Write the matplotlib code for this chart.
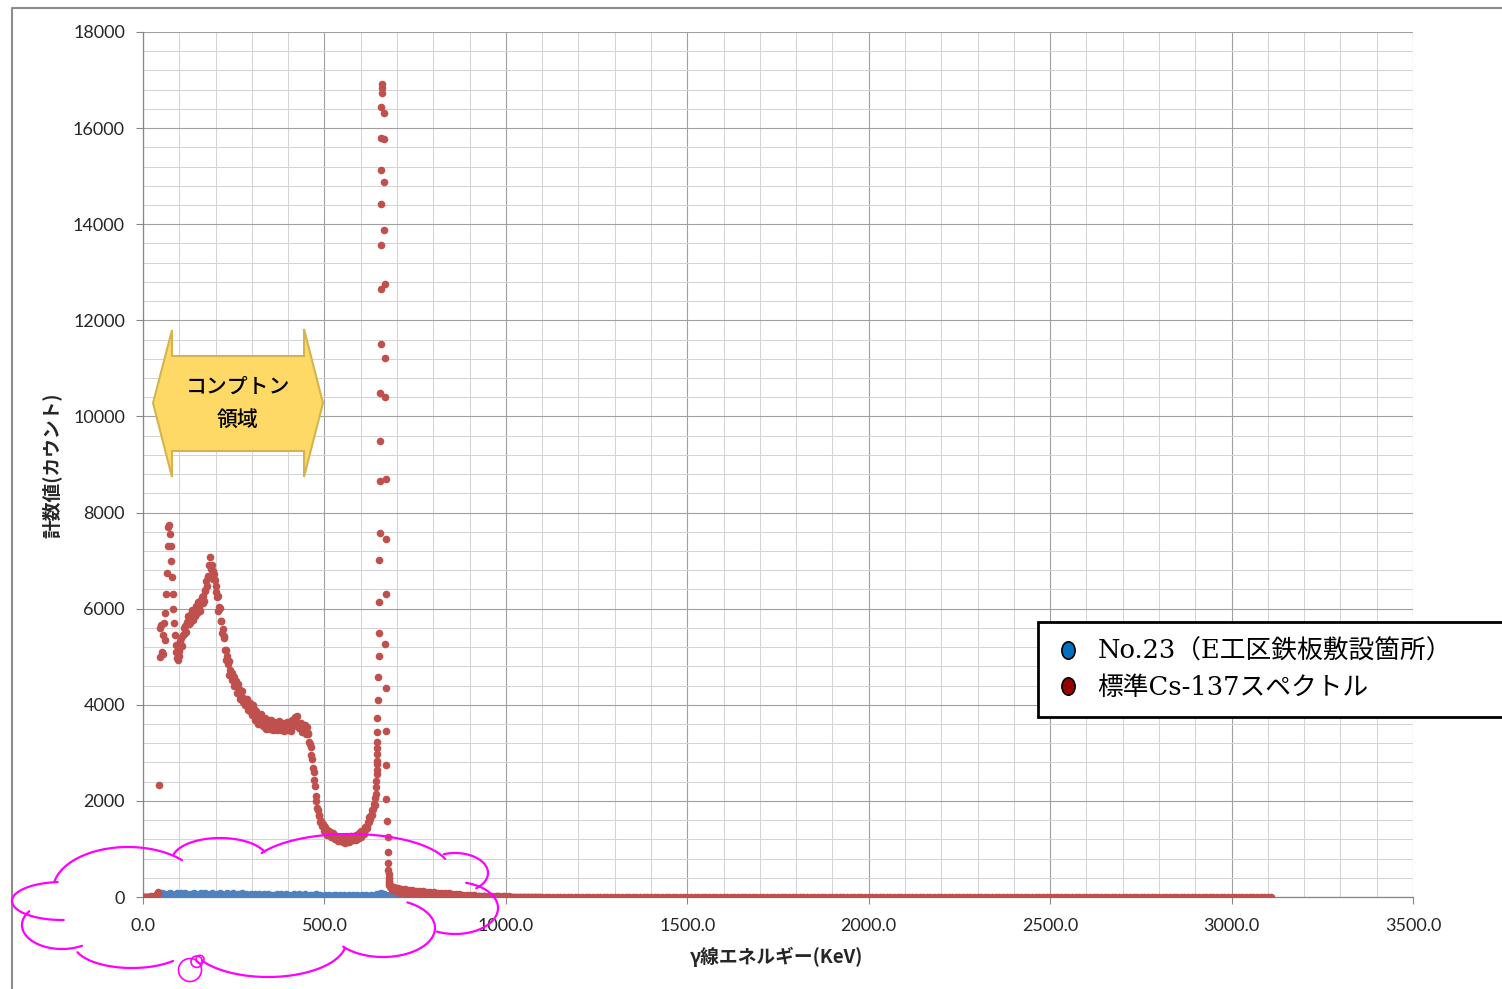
import numpy as np
import matplotlib
matplotlib.use("Agg")
import matplotlib.pyplot as plt
from matplotlib.ticker import MultipleLocator, FormatStrFormatter
from matplotlib.patches import Polygon, Circle
from matplotlib.lines import Line2D
from matplotlib.path import Path
from matplotlib.transforms import Affine2D

plt.rcParams['font.family'] = ['Lato', 'Noto Sans CJK JP', 'DejaVu Sans']

# ---------------------------------------------------------------- data
# Standard Cs-137 spectrum, 2 keV bins from 0 keV up to 642 keV
CS_BIN_KEV = 2.0
cs137_low_counts = [
    # 0 - 44 keV
    0, 0, 5, 0, 10, 0, 5, 0, 10, 0, 5, 15, 0, 10, 5, 20, 10, 15, 30, 60,
    110, 90, 2330,
    # 46 - 96 keV (X-ray peak)
    5600, 5000, 5650, 5100, 5450, 5050, 5700, 5350, 5900, 6300,
    6750, 7300, 7700, 7750, 7550, 7300, 7000, 6650, 6300, 6000,
    5700, 5450, 5250, 5100, 4980, 4930,
    # 98 - 340 keV (Compton continuum and backscatter hump)
    5120, 5020, 5320, 5240, 5400, 5220, 5450, 5590, 5480, 5630,
    5510, 5730, 5680, 5850, 5680, 5800, 5710, 5880, 5810, 5970,
    5760, 5940, 5910, 5850, 6060, 6050, 5900, 6140, 6020, 6150,
    5960, 6140, 6250, 6120, 6270, 6150, 6390, 6360, 6580, 6480,
    6670, 6660, 6900, 6880, 7080, 6830, 6910, 6780, 6620, 6720,
    6600, 6340, 6480, 6250, 6270, 5960, 6030, 6010, 5740, 5750,
    5490, 5580, 5390, 5430, 5130, 5130, 4930, 5010, 4840, 4910,
    4630, 4730, 4640, 4520, 4670, 4590, 4390, 4580, 4410, 4490,
    4250, 4380, 4430, 4230, 4310, 4130, 4290, 4170, 4280, 4060,
    4130, 4000, 4130, 4010, 4130, 3890, 4030, 3970, 3870, 4040,
    3980, 3790, 3990, 3830, 3920, 3680, 3820, 3880, 3690, 3785,
    3610, 3785, 3680, 3810, 3595, 3675, 3555, 3695, 3590, 3720,
    3495, 3650,
    # 342 - 456 keV (plateau)
    3605, 3536, 3683, 3646, 3505, 3676, 3559, 3642, 3466, 3589,
    3650, 3512, 3598, 3468, 3618, 3544, 3654, 3494, 3565, 3476,
    3595, 3514, 3625, 3449, 3577, 3545, 3481, 3633, 3601, 3465,
    3641, 3529, 3617, 3451, 3594, 3673, 3557, 3670, 3572, 3744,
    3672, 3764, 3574, 3616, 3508, 3613, 3518, 3620, 3439, 3557,
    3520, 3446, 3588, 3546, 3390, 3536, 3384, 3412,
    # 458 - 494 keV (Compton edge)
    3221, 3189, 3113, 2952, 2865, 2687, 2604, 2427, 2319, 2109,
    1996, 1853, 1808, 1698, 1680, 1564, 1572, 1525, 1471,
    # 496 - 642 keV (valley below the photopeak)
    1515, 1472, 1370, 1449, 1369, 1403, 1291, 1354, 1382, 1298,
    1338, 1255, 1328, 1275, 1327, 1224, 1255, 1197, 1257, 1206,
    1263, 1158, 1225, 1203, 1164, 1247, 1226, 1147, 1245, 1181,
    1231, 1131, 1205, 1243, 1169, 1222, 1152, 1241, 1203, 1270,
    1183, 1228, 1182, 1255, 1215, 1284, 1191, 1270, 1260, 1232,
    1327, 1319, 1253, 1365, 1316, 1382, 1301, 1395, 1455, 1405,
    1483, 1442, 1564, 1561, 1665, 1616, 1701, 1699, 1817, 1824,
    1945, 1916, 2068, 2140,
]

# 662 keV photopeak channels
cs137_peak_kev = [
    643.0, 643.5, 644.0, 644.3, 644.6, 645.0, 645.0, 645.3, 645.6, 645.6,
    646.0, 646.3, 646.3, 649.5, 649.5, 649.5, 650.3, 653.0, 653.0, 653.5,
    654.5, 655.5, 656.0, 656.5, 656.5, 656.5, 657.0, 656.5, 660.0, 660.0,
    660.0,
    663.5, 664.0, 663.5, 663.5, 666.0, 666.0, 666.0, 668.8, 668.8, 668.8,
    667.8, 670.6, 670.6, 670.6, 670.6, 673.3, 676.0, 676.0, 676.0, 676.5,
    677.0, 677.5, 678.0, 678.5, 679.0, 680.0, 681.0,
]
cs137_peak_counts = [
    2280, 2420, 2560, 2650, 2760, 2830, 2970, 3100, 3232, 3440,
    3731, 4100, 4572, 5015, 5488, 6146, 7013, 7581, 8657, 9489,
    10482, 11508, 12660, 13568, 14421, 15129, 15788, 16433, 16738, 16830,
    16919,
    16322, 15767, 14879, 13880, 12757, 11223, 10405, 8705, 7444, 6299,
    5271, 4356, 3448, 2754, 2033, 1588, 1242, 943, 701, 562,
    470, 400, 340, 290, 250, 220, 200,
]

# High-energy side of the peak, 5 keV bins from 682 keV
CS_TAIL_START_KEV = 682.0
CS_TAIL_STEP_KEV = 5.0
cs137_tail_counts = [
    250, 150, 210, 120, 190, 90, 170, 130, 160, 70,
    150, 110, 140, 60, 130, 95, 120, 50, 115, 80,
    105, 45, 100, 70, 95, 40, 90, 60, 85, 30,
    80, 55, 75, 25, 70, 45, 60, 20, 55, 40,
    50, 15, 45, 30, 40, 10, 35, 25, 30, 8,
    28, 20, 25, 5, 22, 15, 20, 5, 18, 10,
    15, 3, 12, 8, 10,
]

# Remaining range up to 3110 keV, 10 keV bins from 1010 keV
CS_FAR_START_KEV = 1010.0
CS_FAR_STEP_KEV = 10.0
cs137_far_counts = [
    12, 6, 10, 4, 9, 3, 8, 5, 10, 2,
    7, 4, 9, 1, 6, 8, 3, 7, 2, 6,
    5, 1, 7, 3, 6, 0, 5, 4, 2, 6,
    3, 5, 1, 4, 6, 2, 5, 0, 4, 3,
    5, 2, 4, 0, 3, 6, 1, 4, 2, 5,
    0, 4, 3, 1, 5, 2, 4, 0, 3, 2,
    4, 1, 3, 5, 0, 2, 4, 1, 3, 0,
    2, 4, 1, 3, 0, 5, 2, 1, 3, 2,
    0, 3, 2, 4, 1, 0, 3, 2, 1, 4,
    2, 0, 3, 1, 2, 4, 0, 2, 1, 3,
    1, 2, 0, 3, 1, 2, 0, 1, 3, 0,
    2, 1, 0, 2, 3, 0, 1, 2, 0, 1,
    3, 0, 1, 2, 0, 1, 2, 0, 1, 0,
    2, 1, 0, 1, 2, 0, 1, 0, 2, 1,
    0, 1, 2, 0, 1, 0, 1, 2, 0, 1,
    1, 0, 2, 0, 1, 1, 0, 1, 0, 2,
    0, 1, 0, 1, 2, 0, 1, 0, 1, 0,
    1, 0, 1, 0, 0, 2, 0, 1, 0, 1,
    0, 1, 0, 0, 1, 0, 1, 0, 0, 1,
    1, 0, 0, 1, 0, 1, 0, 0, 1, 0,
    0, 1, 0, 0, 1, 0, 0, 1, 0, 0,
    1,
]

# Field measurement No.23, 6 keV bins from 45 keV
NO23_START_KEV = 45.0
NO23_STEP_KEV = 6.0
no23_counts = [
    40, 85, 55, 70, 30, 90, 60, 45, 80, 35, 75,
    50, 90, 40, 70, 55, 85, 30, 65, 80, 45, 75,
    60, 35, 85, 50, 70, 40, 90, 55, 30, 75, 60,
    45, 80, 35, 65, 50, 75, 30, 60, 45, 70, 40,
    55, 25, 65, 45, 60, 30, 70, 40, 50, 25, 60,
    35, 55, 20, 65, 40, 50, 30, 60, 25, 55, 45,
    30, 55, 20, 50, 40, 25, 55, 35, 45, 20, 50,
    30, 45, 15, 50, 35, 25, 45, 20, 40, 30, 50,
    20, 40, 30, 45, 15, 35, 25, 45, 20, 40, 30,
    45, 55, 70, 85, 60, 45, 30, 40, 20, 35, 25,
    30, 15, 35, 25, 20, 35, 15, 30, 20, 25, 10,
    30, 20, 25, 15, 30, 10, 25, 20, 15, 25, 10,
    20, 15, 25, 10, 20, 15, 10, 20, 5, 15, 10,
    20, 10, 15, 5, 15, 10, 20, 5, 10, 15, 5,
    10, 15, 5, 10, 5, 15, 10, 5, 10, 5, 10,
    5, 10, 5, 10, 0, 5, 10, 5, 0, 5, 10,
]

series_labels = ["No.23（E工区鉄板敷設箇所）", "標準Cs-137スペクトル"]
x_label = "γ線エネルギー(KeV)"
y_label = "計数値(カウント)"
callout_lines = ["コンプトン", "領域"]

# ---------------------------------------------------------------- series
cs_kev = np.concatenate([
    np.arange(len(cs137_low_counts)) * CS_BIN_KEV,
    np.asarray(cs137_peak_kev),
    CS_TAIL_START_KEV + np.arange(len(cs137_tail_counts)) * CS_TAIL_STEP_KEV,
    CS_FAR_START_KEV + np.arange(len(cs137_far_counts)) * CS_FAR_STEP_KEV,
])
cs_counts = np.concatenate([cs137_low_counts, cs137_peak_counts,
                            cs137_tail_counts, cs137_far_counts]).astype(float)
no23_kev = NO23_START_KEV + np.arange(len(no23_counts)) * NO23_STEP_KEV

# ---------------------------------------------------------------- figure
W, H, DPI = 1502, 989, 100
fig = plt.figure(figsize=(W / DPI, H / DPI), dpi=DPI, facecolor='white')
L, R, T, B = 143, 1413, 32, 897
ax = fig.add_axes([L / W, (H - B) / H, (R - L) / W, (B - T) / H])

RED = '#C0504D'
BLUE = '#4F81BD'
ax.scatter(no23_kev, no23_counts, s=30, color=BLUE, linewidths=0, zorder=3)
ax.scatter(cs_kev, cs_counts, s=30, color=RED, linewidths=0, zorder=4)

ax.set_xlim(0, 3500)
ax.set_ylim(0, 18000)
ax.xaxis.set_major_locator(MultipleLocator(500))
ax.xaxis.set_minor_locator(MultipleLocator(100))
ax.yaxis.set_major_locator(MultipleLocator(2000))
ax.yaxis.set_minor_locator(MultipleLocator(400))
ax.xaxis.set_major_formatter(FormatStrFormatter('%.1f'))
ax.yaxis.set_major_formatter(FormatStrFormatter('%d'))
ax.set_axisbelow(True)
ax.grid(which='major', color='#a0a0a0', linewidth=0.8)
ax.grid(which='minor', color='#d4d4d4', linewidth=0.75)
for side in ('top', 'right'):
    ax.spines[side].set_visible(False)
for side in ('left', 'bottom'):
    ax.spines[side].set_color('#868686')
    ax.spines[side].set_linewidth(0.9)
ax.tick_params(which='major', length=5, width=0.8, color='#868686',
               labelsize=13, labelcolor='#262626')
ax.tick_params(axis='y', which='major', pad=8)
ax.tick_params(axis='x', which='major', pad=10)
ax.tick_params(which='minor', length=0)

ax.set_xlabel(x_label, fontsize=13.5, fontweight='bold',
              family=['Noto Sans CJK JP', 'DejaVu Sans'], color='#262626')
ax.xaxis.set_label_coords((777 - L) / (R - L), (B - 957) / (B - T))
ax.xaxis.label.set_va('center')
ax.set_ylabel(y_label, fontsize=13.5, fontweight='bold',
              family=['Noto Sans CJK JP', 'DejaVu Sans'], color='#262626')
ax.yaxis.set_label_coords((52 - L) / (R - L), (B - 465) / (B - T))
ax.yaxis.label.set_va('center')

# ---------------------------------------------------------------- legend
ellipse = Path.unit_circle().transformed(Affine2D().scale(0.76, 1.0))
handles = [
    Line2D([], [], ls='none', marker=ellipse, markersize=12.5,
           markerfacecolor='#0070C0', markeredgecolor='black', markeredgewidth=1.2),
    Line2D([], [], ls='none', marker=ellipse, markersize=12.5,
           markerfacecolor='#990000', markeredgecolor='black', markeredgewidth=1.2),
]
leg = fig.legend(handles, series_labels, loc='upper left',
                 bbox_to_anchor=(1038 / W, 1 - 713 / H, (1540 - 1038) / W, (713 - 622) / H),
                 mode='expand', borderaxespad=0, borderpad=0.66,
                 handlelength=1.0, handletextpad=0.65, labelspacing=0.44,
                 frameon=True, fancybox=False, framealpha=1, edgecolor='black',
                 prop={'family': ['DejaVu Serif', 'Noto Sans CJK JP'], 'size': 18.5})
leg.get_frame().set_linewidth(2.0)

# ---------------------------------------------------------------- overlay drawings (pixel space)
ov = fig.add_axes([0, 0, 1, 1])
ov.set_xlim(0, W)
ov.set_ylim(H, 0)
ov.axis('off')
ov.patch.set_alpha(0)

# chart-area border
ov.plot([12, 12, W + 5], [H + 5, 8, 8], color='#8c8c8c', lw=1.5, solid_capstyle='butt')

# double-headed callout arrow
arrow_xy = [(153, 403), (172, 330), (172, 356), (304, 356), (304, 329),
            (323, 403), (304, 477), (304, 451), (172, 451), (172, 477)]
ov.add_patch(Polygon(arrow_xy, closed=True, facecolor='#FFD966',
                     edgecolor='#D4B44E', linewidth=1.5, joinstyle='miter'))
ov.text(238, 387, callout_lines[0], ha='center', va='center', fontsize=15,
        fontweight='medium', family=['Noto Sans CJK JP'], color='black')
ov.text(238, 420, callout_lines[1], ha='center', va='center', fontsize=15,
        fontweight='medium', family=['Noto Sans CJK JP'], color='black')

# cloud outline: elliptical bumps (cx, cy, rx, ry, start deg, end deg), y pointing up
cloud_bumps = [
    (62, 901, 50, 19, 95, 272),     # left
    (62, 925, 40, 24, 145, 300),    # lower left
    (132, 944, 58, 24, 200, 315),   # bottom left
    (268, 942, 78, 35, 212, 350),   # bottom middle
    (383, 928, 52, 29, 220, 422),   # bottom right
    (455, 908, 43, 26, -115, 75),   # right lower
    (455, 873, 33, 20, -50, 110),   # right upper
    (350, 870, 100, 36, 18, 152),   # top right
    (220, 860, 48, 22, 22, 165),    # top middle
    (128, 890, 75, 43, 44, 169),    # top left
]
MAGENTA = '#FF00FF'
for cx, cy, rx, ry, t0, t1 in cloud_bumps:
    t = np.radians(np.linspace(t0, t1, 90))
    ov.plot(cx + rx * np.cos(t), cy - ry * np.sin(t), color=MAGENTA, lw=1.6,
            solid_capstyle='round')
for (cx, cy, r) in [(190, 970, 11.5), (196.7, 961.7, 5.7), (200, 959.3, 4)]:
    ov.add_patch(Circle((cx, cy), r, fill=False, edgecolor=MAGENTA, lw=1.2))

fig.savefig('out.png', dpi=DPI, facecolor='white')
